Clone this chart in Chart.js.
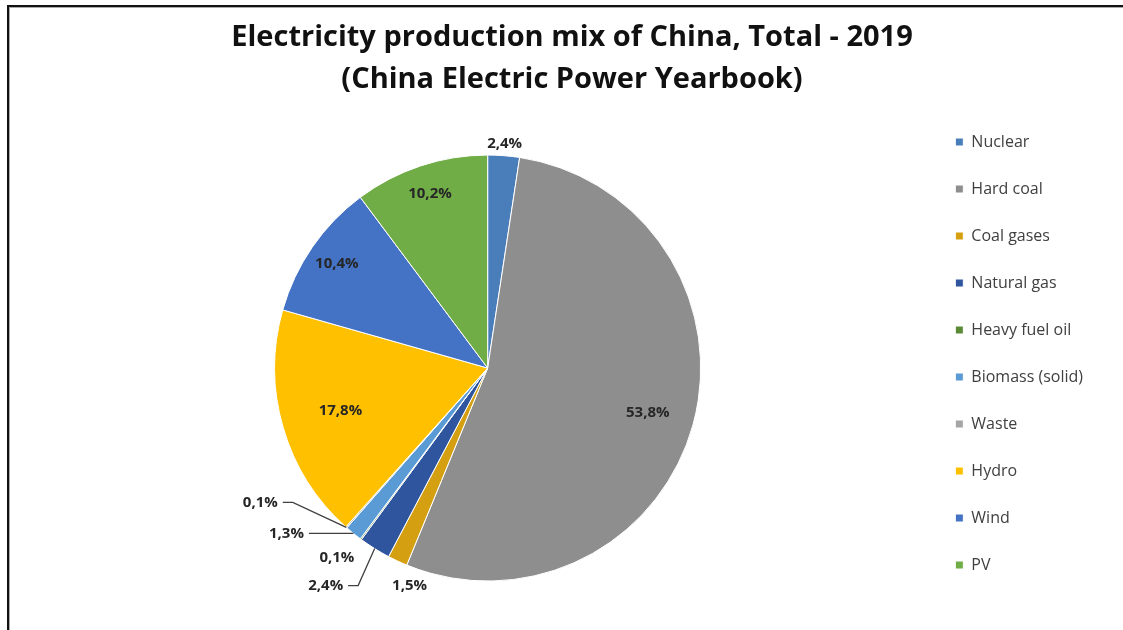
<!DOCTYPE html>
<html>
<head>
<meta charset="utf-8">
<script src="https://cdn.jsdelivr.net/npm/chart.js@4/dist/chart.umd.min.js"></script>
<style>
  html, body { margin: 0; padding: 0; background: #fff; overflow: hidden; }
  #wrap { position: relative; width: 1123px; height: 630px; overflow: hidden; }
  #pie { display: block; }
  #frame { position: absolute; left: 7px; top: 5px; width: 1130px; height: 640px;
           border-top: 2px solid #111; border-left: 2px solid #111;
           box-shadow: inset 1px 1px 0 #aaa; pointer-events: none; }
</style>
</head>
<body>
<div id="wrap">
  <canvas id="pie"></canvas>
  <div id="frame"></div>
</div>
<script>
const categories = ['Nuclear', 'Hard coal', 'Coal gases', 'Natural gas', 'Heavy fuel oil',
                    'Biomass (solid)', 'Waste', 'Hydro', 'Wind', 'PV'];
const shares = [2.4, 53.8, 1.5, 2.4, 0.1, 1.3, 0.1, 17.8, 10.4, 10.2];
const titleLines = ['Electricity production mix of China, Total - 2019', '(China Electric Power Yearbook)'];

const colors = ['#4a7ebb', '#8e8e8e', '#d4a012', '#2f559f', '#5a8a35',
                '#5b9bd5', '#a5a5a5', '#ffc000', '#4472c4', '#70ad47'];

// where each label goes: inside at a fraction of the radius, just outside, or shifted from the rim
const labelPlace = [
  { out: 12 },
  { inR: 0.78 },
  { dx: 12, dy: 25 },
  { dx: -49, dy: 37, line: true },
  { dx: -24, dy: 19 },
  { dx: -67, dy: 0, line: true },
  { dx: -86, dy: -25, line: true },
  { inR: 0.72 },
  { inR: 0.86 },
  { inR: 0.86 }
];

const fmt = v => v.toFixed(1).replace('.', ',') + '%';

const sliceLabels = {
  id: 'sliceLabels',
  afterDatasetsDraw(chart) {
    const ctx = chart.ctx;
    const arcs = chart.getDatasetMeta(0).data;
    ctx.save();
    ctx.font = 'bold 15px "Open Sans", sans-serif';
    ctx.fillStyle = '#262626';
    ctx.textAlign = 'center';
    ctx.textBaseline = 'middle';
    arcs.forEach((arc, i) => {
      const p = labelPlace[i];
      const mid = (arc.startAngle + arc.endAngle) / 2;
      const r = arc.outerRadius;
      const cos = Math.cos(mid), sin = Math.sin(mid);
      const text = fmt(shares[i]);
      let lx, ly;
      if (p.inR) {
        lx = arc.x + cos * r * p.inR;
        ly = arc.y + sin * r * p.inR;
      } else if (p.out) {
        lx = arc.x + cos * (r + p.out);
        ly = arc.y + sin * (r + p.out);
      } else {
        const ex = arc.x + cos * r, ey = arc.y + sin * r;
        lx = ex + p.dx;
        ly = ey + p.dy;
        if (p.line) {
          const w = ctx.measureText(text).width;
          ctx.strokeStyle = '#404040';
          ctx.lineWidth = 1.3;
          ctx.beginPath();
          ctx.moveTo(lx + w / 2 + 5, ly);
          ctx.lineTo(lx + w / 2 + 15, ly);
          ctx.lineTo(ex, ey);
          ctx.stroke();
        }
      }
      ctx.fillText(text, lx, ly);
    });
    ctx.restore();
  }
};

new Chart(document.getElementById('pie'), {
  type: 'pie',
  data: {
    labels: categories,
    datasets: [{
      data: shares,
      backgroundColor: colors,
      borderColor: '#ffffff',
      borderWidth: 1,
      hoverOffset: 0,
      radius: 213
    }]
  },
  options: {
    responsive: true,
    maintainAspectRatio: false,
    animation: false,
    layout: { padding: { left: 51, right: 30, top: 0, bottom: 26 } },
    plugins: {
      title: {
        display: true,
        text: titleLines,
        color: '#111',
        font: { family: '"Open Sans", sans-serif', size: 29, weight: 'bold', lineHeight: 1.45 },
        padding: { top: 17, bottom: 31 }
      },
      legend: {
        position: 'right',
        align: 'end',
        labels: {
          boxWidth: 8,
          boxHeight: 8,
          padding: 31,
          color: '#404040',
          font: { family: '"Open Sans", sans-serif', size: 16 }
        }
      },
      tooltip: { enabled: false }
    }
  },
  plugins: [sliceLabels]
});
</script>
</body>
</html>
